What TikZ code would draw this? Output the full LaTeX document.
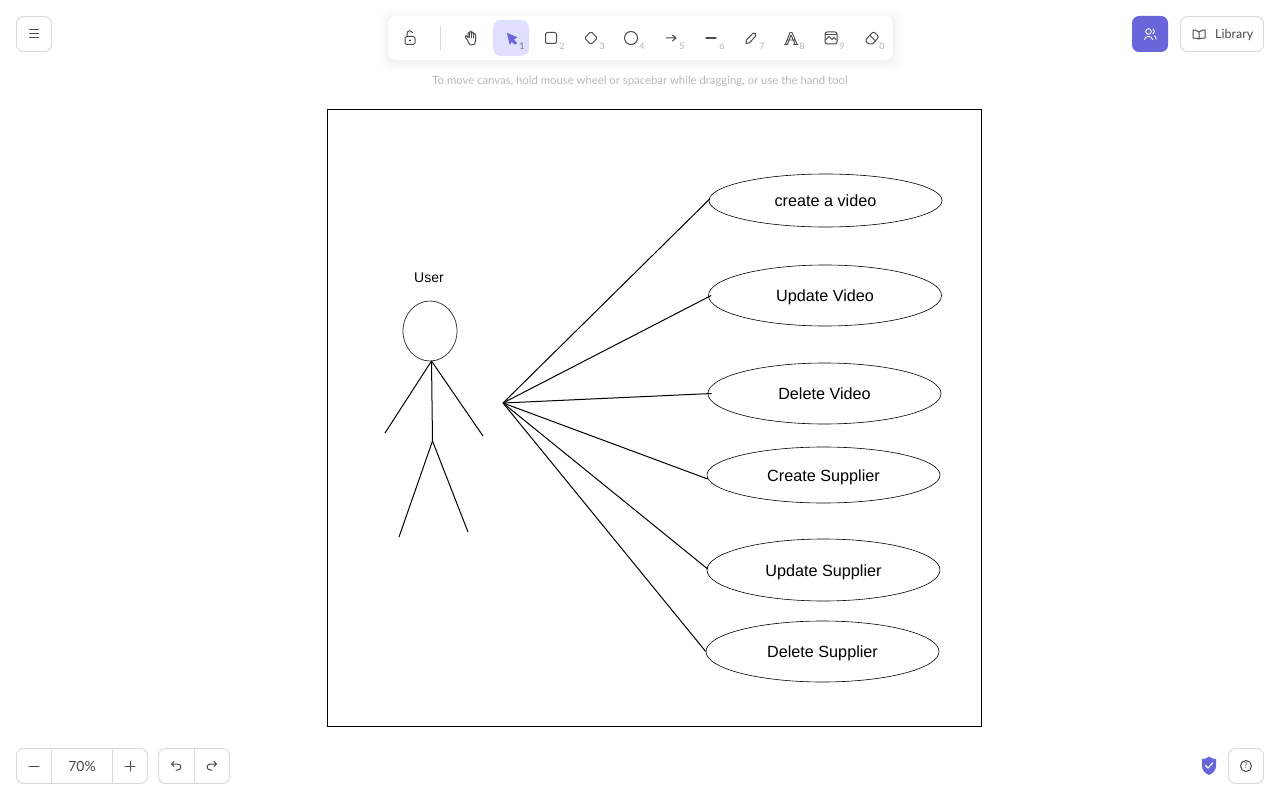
\documentclass[tikz,border=0pt]{standalone}
\usepackage{fontspec}
\usetikzlibrary{shapes.geometric}
\setmainfont{Liberation Sans}
\newfontfamily\uifont{Lato}
\definecolor{uiborder}{HTML}{D9D9D9}
\definecolor{uiicon}{HTML}{4A4A4F}
\definecolor{uihint}{HTML}{B8B8B8}
\definecolor{uinum}{HTML}{B5B5B5}
\definecolor{violet}{HTML}{6965DB}
\definecolor{violetlight}{HTML}{E0DFFF}
\tikzset{
  usecase/.style={draw=black,line width=0.6pt,ellipse,inner sep=0pt,minimum width=233pt,text height=13.5pt,text depth=1.5pt,font=\fontsize{16.2}{18}\selectfont},
  link/.style={draw=black,line width=1pt},
  limb/.style={draw=black,line width=1pt},
  uibtn/.style={draw=uiborder,line width=0.9pt,rounded corners=7pt,fill=white},
  uiline/.style={draw=uiicon,line width=1pt,line cap=round,line join=round},
  numlabel/.style={font=\uifont\fontsize{9}{10}\selectfont,text=uinum,inner sep=0pt},
  uitext/.style={font=\uifont\fontsize{12.5}{14}\selectfont,text=uiicon,inner sep=0pt}
}
\begin{document}
\begin{tikzpicture}[x=1pt,y=-1pt]
\useasboundingbox (0,0) rectangle (1280,800);
\fill[white] (0,0) rectangle (1280,800);

% ---- diagram frame
\draw[black,line width=0.9pt] (327,109) rectangle (981,726);

% ---- use cases
\node[usecase,minimum height=53pt] (uc1) at (825.5,200.5) {create a video};
\node[usecase,minimum height=61pt] (uc2) at (825,295.5) {Update Video};
\node[usecase,minimum height=61pt] (uc3) at (824.5,393.5) {Delete Video};
\node[usecase,minimum height=56pt] (uc4) at (823.5,475) {Create Supplier};
\node[usecase,minimum height=62pt] (uc5) at (823.5,570) {Update Supplier};
\node[usecase,minimum height=61pt] (uc6) at (822.5,651.5) {Delete Supplier};

% ---- actor
\node[font=\fontsize{14}{16}\selectfont,inner sep=0pt] (userlabel) at (429,278) {User};
\node[draw=black!75,line width=0.8pt,ellipse,inner sep=0pt,minimum width=54pt,minimum height=60pt] (head) at (430,331) {};
\coordinate (neck) at (431.5,361);
\coordinate (hip) at (432.5,441);
\coordinate (handl) at (385,433);
\coordinate (handr) at (483,436);
\coordinate (footl) at (399,537);
\coordinate (footr) at (468,532);
\draw[limb] (neck) -- (hip);
\draw[limb] (neck) -- (handl);
\draw[limb] (neck) -- (handr);
\draw[limb] (hip) -- (footl);
\draw[limb] (hip) -- (footr);

% ---- connectors
\coordinate (hub) at (503,403);
\draw[link] (hub) -- ([xshift=1pt,yshift=1.5pt]uc1.west);
\draw[link] (hub) -- ([xshift=3pt]uc2.west);
\draw[link] (hub) -- ([xshift=4pt]uc3.west);
\draw[link] (hub) -- ([xshift=1pt,yshift=-4pt]uc4.west);
\draw[link] (hub) -- ([xshift=1pt,yshift=1pt]uc5.west);
\draw[link] (hub) -- (uc6.west);

% ---- menu button
\draw[uibtn] (16.5,16.5) rectangle (51.5,51.5);
\draw[uiline] (29.5,30) -- (38.5,30) (29.5,34) -- (38.5,34) (29.5,38) -- (38.5,38);

% ---- toolbar
\foreach \s/\o in {9/0.006,7/0.007,5/0.009,3/0.011,1.5/0.013}{
  \fill[black,opacity=\o,rounded corners=9pt] (388-\s,16-\s+2) rectangle (893+\s,60+\s+2);
}
\fill[white,rounded corners=8pt] (388,16) rectangle (893,60);
\draw[uiborder,line width=0.8pt] (440.5,26) -- (440.5,50);
\fill[violetlight,rounded corners=8pt] (493,20) rectangle (529,56);

% lock
\draw[uiline,rounded corners=1.5pt] (405,36.5) rectangle (415,44.5);
\draw[uiline] (407,36.5) -- (407,33.5) arc[start angle=180,end angle=20,radius=2.8pt];
\fill[uiicon] (410,40.5) circle (1.1pt);
% hand
\draw[uiline] (467.5,40) -- (465.5,37.5) .. controls (464.5,36) and (466.5,35) .. (467.5,36.5) -- (468,37.5) -- (468,33.5) .. controls (468,32) and (469.8,32) .. (469.8,33.5) -- (469.8,32.2) .. controls (469.8,30.7) and (471.6,30.7) .. (471.6,32.2) -- (471.6,33) .. controls (471.6,31.7) and (473.4,31.7) .. (473.4,33) -- (473.4,34.5) .. controls (473.4,33.3) and (475.5,33.3) .. (475.5,34.7) -- (475.5,41) .. controls (475.5,44) and (474,45) .. (472,45) -- (470.5,45) .. controls (469,45) and (468.5,42) .. (467.5,40);
\draw[uiline,line width=0.7pt] (469.8,33.5) -- (469.8,38) (471.6,33) -- (471.6,38) (473.4,34) -- (473.4,38);
% selection arrow
\fill[violet,draw=violet,line width=0.8pt,line join=round] (507.5,33.5) -- (516.5,37.5) -- (513,39.5) -- (516.5,43) -- (514.8,44.2) -- (511.5,41) -- (510,44) -- cycle;
\node[numlabel,text=uiicon!80] (n1) at (522,46) {1};
% rectangle
\draw[uiline,rounded corners=2pt] (545.5,32.5) rectangle (556.5,43.5);
\node[numlabel] (n2) at (562,46) {2};
% diamond
\draw[uiline,rounded corners=1.5pt] (591,31.5) -- (597.5,38) -- (591,44.5) -- (584.5,38) -- cycle;
\node[numlabel] (n3) at (602,46) {3};
% circle
\draw[uiline] (631,38) circle (6.5pt);
\node[numlabel] (n4) at (642,46) {4};
% arrow
\draw[uiline] (666,38) -- (676,38) (672.5,35) -- (676,38) -- (672.5,41);
\node[numlabel] (n5) at (682,46) {5};
% line
\draw[uiline,line width=1.3pt] (706,38) -- (716,38);
\node[numlabel] (n6) at (722,46) {6};
% pencil
\draw[uiline] (746,43.5) -- (746.5,40) -- (753,33.2) .. controls (754.5,32) and (757,34.5) .. (755.7,36) -- (749.5,42.8) -- cycle;
\node[numlabel] (n7) at (762,46) {7};
% text tool: outlined letter A
\draw[uiline,line width=0.9pt] (785.5,44) -- (790,32.5) -- (792,32.5) -- (797,44) (787.5,44) -- (791,35) -- (795,44) (787,40) -- (795,40);
\draw[uiline,line width=0.9pt] (784.5,44) -- (788,44) (793.5,44) -- (797.8,44);
\node[numlabel] (n8) at (802,46) {8};
% image
\draw[uiline,rounded corners=2pt] (825,32) rectangle (837,44);
\draw[uiline,line width=0.8pt] (825.5,40) -- (829,36.5) -- (832,39.5) -- (834,37.5) -- (836.5,40);
\draw[uiline,line width=0.8pt] (825.5,34.2) -- (836.5,34.2);
\node[numlabel] (n9) at (842,46) {9};
% eraser
\draw[uiline] (866,39.5) -- (872,33) .. controls (873,32) and (874,32) .. (875,33) -- (877.5,35.5) .. controls (878.5,36.5) and (878.5,37.5) .. (877.5,38.5) -- (872.5,44) -- (869,44) -- (866,41.5) .. controls (865.5,41) and (865.5,40) .. (866,39.5) -- cycle;
\draw[uiline] (870,35.5) -- (875.5,41);
\node[numlabel] (n0) at (882,46) {0};

% hint
\node[font=\uifont\fontsize{11.33}{14}\selectfont,text=uihint,inner sep=0pt] (hint) at (640,81) {To move canvas, hold mouse wheel or spacebar while dragging, or use the hand tool};

% ---- top right
\fill[violet,rounded corners=7pt] (1132,16) rectangle (1168,52);
\draw[white,line width=0.9pt,line cap=round] (1148.5,31.5) circle (2.8pt);
\draw[white,line width=0.9pt,line cap=round] (1144.5,39.5) .. controls (1144.5,35.5) and (1152.5,35.5) .. (1152.5,39.5);
\draw[white,line width=0.9pt,line cap=round] (1153,29) .. controls (1155,29.5) and (1155,33) .. (1153,34);
\draw[white,line width=0.9pt,line cap=round] (1154.5,36) .. controls (1156,36.5) and (1156,38) .. (1156,39.5);
\draw[uibtn] (1180.5,16.5) rectangle (1263.5,51.5);
\draw[uiline] (1199,32) .. controls (1197,30) and (1194.5,30) .. (1193,30) -- (1193,38) .. controls (1195,38) and (1197,38) .. (1199,39) .. controls (1201,38) and (1203,38) .. (1205,38) -- (1205,30) .. controls (1203.5,30) and (1201,30) .. (1199,32) -- (1199,39);
\node[uitext,anchor=west] (lib) at (1215,34.8) {Library};

% ---- bottom left
\draw[uibtn] (16.5,748.5) rectangle (147.5,783.5);
\draw[uiborder,line width=0.9pt] (51.5,748.5) -- (51.5,783.5) (112.5,748.5) -- (112.5,783.5);
\draw[uiline] (29,766) -- (39,766);
\node[font=\uifont\fontsize{14}{14}\selectfont,text=uiicon,inner sep=0pt] (zoomtxt) at (82,766) {70\%};
\draw[uiline] (125,766) -- (135,766) (130,761) -- (130,771);
\draw[uibtn] (158.5,748.5) rectangle (229.5,783.5);
\draw[uiborder,line width=0.9pt] (194.5,748.5) -- (194.5,783.5);
\draw[uiline] (174,761.5) -- (171.5,764) -- (174,766.5) (171.5,764) -- (177.5,764) .. controls (182,764) and (182,770) .. (177.5,770) -- (176,770);
\draw[uiline] (214,761.5) -- (216.5,764) -- (214,766.5) (216.5,764) -- (210.5,764) .. controls (206,764) and (206,770) .. (210.5,770) -- (212,770);

% ---- bottom right
\fill[violet] (1209,756.5) .. controls (1211.5,758.5) and (1213.5,759) .. (1216,759) -- (1216,766) .. controls (1216,770.5) and (1212.5,773.5) .. (1209,775) .. controls (1205.5,773.5) and (1202,770.5) .. (1202,766) -- (1202,759) .. controls (1204.5,759) and (1206.5,758.5) .. (1209,756.5) -- cycle;
\draw[white,line width=1.2pt,line cap=round,line join=round] (1205.5,765.5) -- (1208,768) -- (1212.8,762.8);
\draw[uibtn] (1228.5,748.5) rectangle (1263.5,783.5);
\draw[uiline] (1246,766) circle (5.5pt);
\node[font=\uifont\fontsize{8}{8}\selectfont,text=uiicon,inner sep=0pt] (qmark) at (1246,766) {?};
\end{tikzpicture}
\end{document}
